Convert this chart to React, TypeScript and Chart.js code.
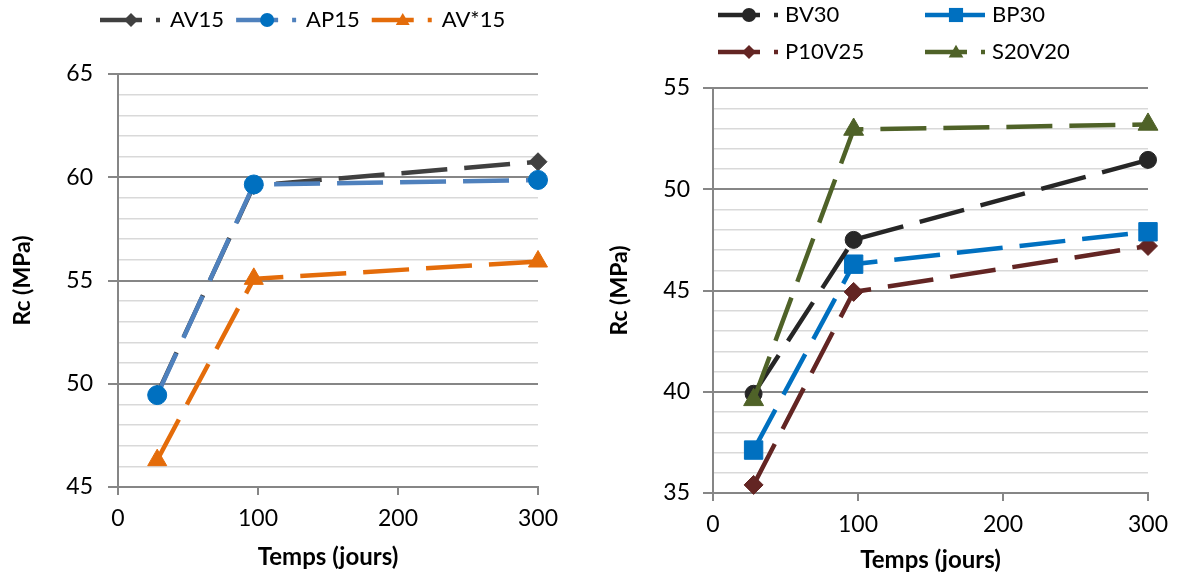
import React, { useEffect, useRef } from "react";
import { Chart, registerables } from "chart.js";

Chart.register(...registerables);

// ---------- data ----------
const DAYS = [28, 97, 300];
const X_TICKS = [0, 100, 200, 300];

const LEFT_Y_LABELS = [45, 50, 55, 60, 65];
const AV15 = [49.5, 59.6, 60.75];
const AP15 = [49.45, 59.65, 59.87];
const AV_STAR_15 = [46.3, 55.08, 55.92];

const RIGHT_Y_LABELS = [35, 40, 45, 50, 55];
const BV30 = [39.9, 47.5, 51.45];
const BP30 = [37.12, 46.3, 47.9];
const P10V25 = [35.4, 44.93, 47.2];
const S20V20 = [39.6, 52.95, 53.2];

const FONT = "Lato, 'Open Sans', sans-serif";
const MAJOR = "#868686";
const MINOR = "#D9D9D9";

type Series = {
  label: string;
  values: number[];
  line: string;
  marker: string;
  style: string;
  radius: number;
  legendRadius: number;
  order: number;
  legendSolid?: boolean;
};

const LEFT_SERIES: Series[] = [
  { label: "AV15", values: AV15, line: "#404040", marker: "#404040", style: "rectRot", radius: 9, legendRadius: 7, order: 2 },
  { label: "AP15", values: AP15, line: "#4F81BD", marker: "#0070C0", style: "circle", radius: 9.5, legendRadius: 7, order: 1 },
  { label: "AV*15", values: AV_STAR_15, line: "#E46C0A", marker: "#E46C0A", style: "triangle", radius: 11, legendRadius: 8, order: 0 },
];

const RIGHT_SERIES: Series[] = [
  { label: "BV30", values: BV30, line: "#262626", marker: "#262626", style: "circle", radius: 8.5, legendRadius: 7, order: 1 },
  { label: "BP30", values: BP30, line: "#0070C0", marker: "#0070C0", style: "rect", radius: 13, legendRadius: 10, order: 2, legendSolid: true },
  { label: "P10V25", values: P10V25, line: "#632523", marker: "#632523", style: "rectRot", radius: 9.5, legendRadius: 7, order: 3 },
  { label: "S20V20", values: S20V20, line: "#4F6228", marker: "#4F6228", style: "triangle", radius: 11.5, legendRadius: 8.5, order: 0 },
];

function drawMarker(ctx: CanvasRenderingContext2D, style: string, x: number, y: number, r: number, color: string) {
  ctx.save();
  ctx.fillStyle = color;
  ctx.beginPath();
  if (style === "circle") {
    ctx.arc(x, y, r, 0, Math.PI * 2);
  } else if (style === "rectRot") {
    ctx.moveTo(x, y - r);
    ctx.lineTo(x + r, y);
    ctx.lineTo(x, y + r);
    ctx.lineTo(x - r, y);
    ctx.closePath();
  } else if (style === "rect") {
    const s = r * Math.SQRT1_2;
    ctx.rect(x - s, y - s, 2 * s, 2 * s);
  } else if (style === "triangle") {
    const h = r * 1.5;
    const w = r * Math.sqrt(3);
    ctx.moveTo(x, y - h / 2 - 1);
    ctx.lineTo(x + w / 2, y + h / 2 - 1);
    ctx.lineTo(x - w / 2, y + h / 2 - 1);
    ctx.closePath();
  }
  ctx.fill();
  ctx.restore();
}

type LegendLayout = {
  columns: number[];
  rows: number[];
  flowStart?: number;
  perRow: number;
  textOffset: number;
};

function makeLegendPlugin(series: Series[], layout: LegendLayout) {
  return {
    id: "excelLegend",
    afterDraw(chart: any) {
      const ctx: CanvasRenderingContext2D = chart.ctx;
      const area = chart.chartArea;
      ctx.save();
      ctx.font = `22px ${FONT}`;
      ctx.textBaseline = "middle";
      ctx.textAlign = "left";
      let flowX = area.left + (layout.flowStart ?? 0);
      series.forEach((s, i) => {
        const row = Math.floor(i / layout.perRow);
        const col = i % layout.perRow;
        const y = layout.rows[row];
        let x: number;
        if (layout.columns.length) x = area.left + layout.columns[col];
        else x = flowX;
        ctx.strokeStyle = s.line;
        ctx.lineWidth = 4.5;
        ctx.lineCap = "butt";
        ctx.beginPath();
        if (s.legendSolid) {
          ctx.moveTo(x, y);
          ctx.lineTo(x + 60, y);
        } else {
          ctx.moveTo(x, y);
          ctx.lineTo(x + 42, y);
          ctx.moveTo(x + 56, y);
          ctx.lineTo(x + 60, y);
        }
        ctx.stroke();
        drawMarker(ctx, s.style, x + 31, y, s.legendRadius, s.marker);
        ctx.fillStyle = "#000";
        ctx.fillText(s.label, x + layout.textOffset, y);
        const w = ctx.measureText(s.label).width;
        flowX = x + layout.textOffset + w + 12;
      });
      ctx.restore();
    },
  };
}

type PanelCfg = {
  series: Series[];
  yMin: number;
  yMax: number;
  yLabels: number[];
  width: number;
  axisWidth: number;
  axisHeight: number;
  padTop: number;
  padRight: number;
  yTickPad: number;
  yTitlePad: number;
  xTitlePad: number;
  legend: LegendLayout;
};

function Panel({ cfg }: { cfg: PanelCfg }) {
  const ref = useRef<HTMLCanvasElement | null>(null);
  useEffect(() => {
    if (!ref.current) return;
    const datasets = cfg.series.map((s) => ({
      label: s.label,
      data: DAYS.map((d, i) => ({ x: d, y: s.values[i] })),
      borderColor: s.line,
      backgroundColor: s.marker,
      pointBackgroundColor: s.marker,
      pointBorderColor: s.marker,
      pointBorderWidth: 1,
      pointStyle: s.style,
      pointRadius: s.radius,
      pointHoverRadius: s.radius,
      borderWidth: 4.5,
      borderDash: [46, 17],
      borderCapStyle: "butt",
      tension: 0,
      fill: false,
      clip: false,
      order: s.order,
    }));
    const chart = new Chart(ref.current, {
      type: "line",
      data: { datasets } as any,
      plugins: [makeLegendPlugin(cfg.series, cfg.legend)],
      options: {
        responsive: false,
        animation: false,
        events: [],
        layout: { padding: { top: cfg.padTop, right: cfg.padRight, left: 0, bottom: 0 } },
        plugins: { legend: { display: false }, tooltip: { enabled: false } },
        scales: {
          x: {
            type: "linear",
            min: 0,
            max: 300,
            afterBuildTicks: (s: any) => {
              s.ticks = X_TICKS.map((v) => ({ value: v }));
            },
            afterFit: (s: any) => {
              s.height = cfg.axisHeight;
            },
            ticks: { font: { family: FONT, size: 23 }, color: "#000", padding: 10, maxRotation: 0, autoSkip: false },
            grid: { drawOnChartArea: false, tickLength: 8, color: MAJOR, lineWidth: 2 },
            border: { color: MAJOR, width: 2 },
            title: {
              display: true,
              text: "Temps (jours)",
              font: { family: FONT, size: 24, weight: "bold" },
              color: "#000",
              padding: { top: 0, bottom: cfg.xTitlePad },
            },
          },
          y: {
            type: "linear",
            min: cfg.yMin,
            max: cfg.yMax,
            afterFit: (s: any) => {
              s.width = cfg.axisWidth;
            },
            ticks: {
              stepSize: 1,
              autoSkip: false,
              font: { family: FONT, size: 23 },
              color: "#000",
              padding: cfg.yTickPad,
              callback: (v: any) => (cfg.yLabels.includes(Number(v)) ? String(v) : ""),
            },
            grid: {
              color: (c: any) => (c.tick && c.tick.value % 5 === 0 ? MAJOR : MINOR),
              lineWidth: (c: any) => (c.tick && c.tick.value % 5 === 0 ? 2 : 1.5),
              tickLength: 10,
              tickColor: (c: any) => (c.tick && c.tick.value % 5 === 0 ? MAJOR : "rgba(0,0,0,0)"),
              tickWidth: 2,
            },
            border: { color: MAJOR, width: 2 },
            title: {
              display: true,
              text: "Rc (MPa)",
              font: { family: FONT, size: 23, weight: "bold" },
              color: "#000",
              padding: { top: cfg.yTitlePad, bottom: 0 },
            },
          },
        },
      } as any,
    });
    return () => chart.destroy();
  }, [cfg]);
  return <canvas ref={ref} width={cfg.width} height={579} style={{ display: "block", width: cfg.width, height: 579 }} />;
}

const LEFT_CFG: PanelCfg = {
  series: LEFT_SERIES,
  yMin: 45,
  yMax: 65,
  yLabels: LEFT_Y_LABELS,
  width: 590,
  axisWidth: 118,
  axisHeight: 92,
  padTop: 74,
  padRight: 52,
  yTickPad: 15,
  yTitlePad: 9,
  xTitlePad: 7,
  legend: { columns: [], rows: [20], flowStart: -18, perRow: 3, textOffset: 70 },
};

const RIGHT_CFG: PanelCfg = {
  series: RIGHT_SERIES,
  yMin: 35,
  yMax: 55,
  yLabels: RIGHT_Y_LABELS,
  width: 589,
  axisWidth: 123,
  axisHeight: 86,
  padTop: 88,
  padRight: 31,
  yTickPad: 13,
  yTitlePad: 16,
  xTitlePad: 4,
  legend: { columns: [5, 212], rows: [15, 52], perRow: 2, textOffset: 67 },
};

export default function App() {
  return (
    <div style={{ position: "absolute", left: 0, top: 0, width: 1179, height: 579, display: "flex", background: "#fff" }}>
      <Panel cfg={LEFT_CFG} />
      <Panel cfg={RIGHT_CFG} />
    </div>
  );
}
